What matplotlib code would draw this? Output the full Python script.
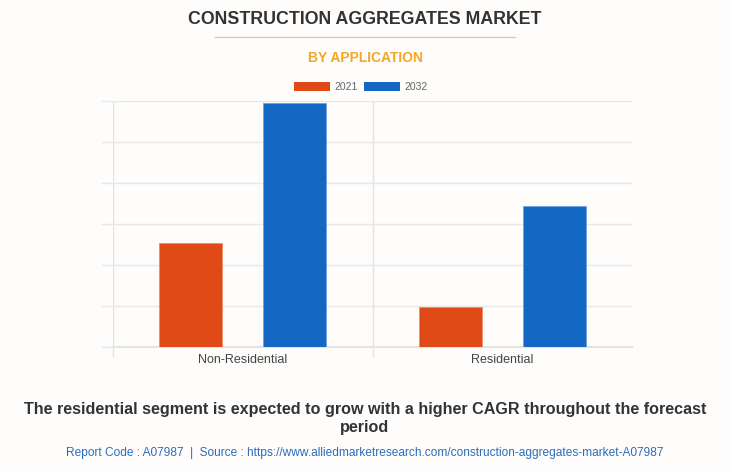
import matplotlib.pyplot as plt
import numpy as np

plt.rcParams['font.family'] = ['Liberation Sans', 'DejaVu Sans']

categories = ['Non-Residential', 'Residential']
years = ['2021', '2032']
values_2021 = [2.54, 0.98]
values_2032 = [5.95, 3.44]
colors = ['#E04A17', '#1467C2']

fig = plt.figure(figsize=(7.3, 4.73), dpi=100, facecolor='#fefdfc')
ax = fig.add_axes([113 / 730, 126 / 473, 519 / 730, 246 / 473])
ax.set_facecolor('#fefdfc')

x = np.arange(len(categories))
w = 0.243
ax.bar(x - 0.2, values_2021, w, color=colors[0], edgecolor='#f08a6a', linewidth=0.6, zorder=3)
ax.bar(x + 0.2, values_2032, w, color=colors[1], edgecolor='#6ea3e0', linewidth=0.6, zorder=3)

ax.set_xlim(-0.5, 1.5)
ax.set_ylim(0, 6)
ax.set_yticks(np.arange(0, 7, 1))
ax.set_yticklabels([])
ax.grid(axis='y', color='#e8e8e8', linewidth=1, zorder=0)
ax.tick_params(axis='y', length=9, color='#e8e8e8', width=1)

# category separators
ax.set_xticks([-0.5, 0.5], minor=True)
ax.tick_params(axis='x', which='minor', length=7, color='#e2e2e2', width=1)
ax.set_xticks(x)
ax.set_xticklabels(categories, fontsize=9, color='#444444')
ax.tick_params(axis='x', which='major', length=0, pad=5)
for xv in [-0.5, 0.5]:
    ax.axvline(xv, color='#e2e2e2', linewidth=1, zorder=0)

for s in ['top', 'right', 'left']:
    ax.spines[s].set_visible(False)
ax.spines['bottom'].set_color('#e4e4e4')
ax.spines['bottom'].set_linewidth(1.5)

# titles
fig.text(0.5, 1 - 20 / 473, 'CONSTRUCTION AGGREGATES MARKET', ha='center', va='center',
         fontsize=12.8, fontweight='bold', color='#333333')
fig.add_artist(plt.Line2D([215 / 730, 515 / 730], [1 - 37 / 473] * 2, color='#cccccc', linewidth=1))
fig.text(0.5, 1 - 58 / 473, 'BY APPLICATION', ha='center', va='center',
         fontsize=10, fontweight='bold', color='#F5A623')

# legend
for i, (yr, c) in enumerate(zip(years, colors)):
    x0 = (294 + 70 * i) / 730
    fig.patches.append(plt.Rectangle((x0, 1 - 91 / 473), 36 / 730, 9 / 473,
                                     transform=fig.transFigure, facecolor=c, edgecolor='none'))
    fig.text(x0 + 40 / 730, 1 - 86.5 / 473, yr, ha='left', va='center', fontsize=7.5, color='#666666')

fig.text(0.5, 1 - 418 / 473,
         'The residential segment is expected to grow with a higher CAGR throughout the forecast\nperiod',
         ha='center', va='center', fontsize=11.6, fontweight='bold', color='#333333', linespacing=1.25)
fig.text(0.5, 1 - 453 / 473,
         'Report Code : A07987  |  Source : https://www.alliedmarketresearch.com/construction-aggregates-market-A07987',
         ha='center', va='center', fontsize=8.6, color='#2a6ebb')

fig.savefig('out.png', dpi=100, facecolor=fig.get_facecolor())
